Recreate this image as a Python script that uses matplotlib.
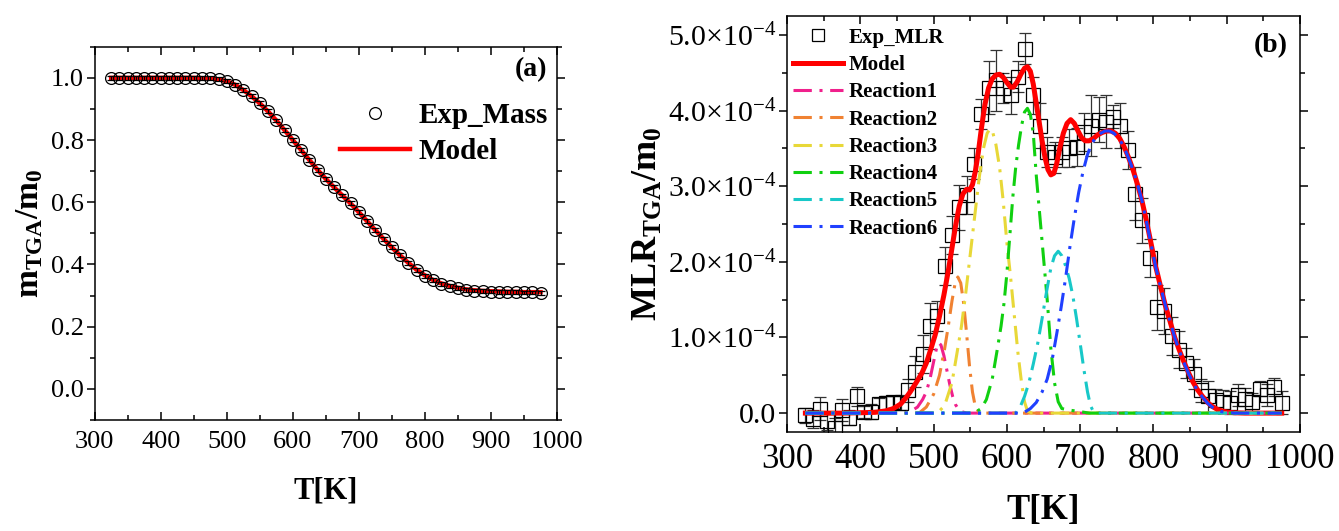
"""TGA mass loss (a) and mass loss rate with reaction split (b)."""

import matplotlib
matplotlib.use("Agg")
import matplotlib.pyplot as plt
from matplotlib.lines import Line2D
from matplotlib.ticker import MultipleLocator, FormatStrFormatter

plt.rcParams["font.family"] = ["Liberation Serif", "DejaVu Serif"]
plt.rcParams["mathtext.fontset"] = "custom"
plt.rcParams["mathtext.rm"] = "Liberation Serif"
plt.rcParams["mathtext.it"] = "Liberation Serif:italic"
plt.rcParams["mathtext.bf"] = "Liberation Serif:bold"

# ---- panel (a): normalised mass ----
temp_a = [325, 337.5, 350, 362.5, 375, 387.5, 400, 412.5, 425, 437.5, 450, 462.5,
          475, 487.5, 500, 512.5, 525, 537.5, 550, 562.5, 575, 587.5,
          600, 612.5, 625, 637.5, 650, 662.5, 675, 687.5, 700, 712.5,
          725, 737.5, 750, 762.5, 775, 787.5, 800, 812.5, 825, 837.5,
          850, 862.5, 875, 887.5, 900, 912.5, 925, 937.5, 950, 962.5, 975]
mass_exp = [1.0, 1.0, 1.0, 1.0, 1.0, 1.0, 1.0, 1.0, 1.0, 1.0, 1.0, 1.0,
            0.999, 0.996, 0.99, 0.978, 0.962, 0.942, 0.92, 0.893, 0.863, 0.832,
            0.80, 0.768, 0.735, 0.703, 0.675, 0.648, 0.622, 0.597, 0.568, 0.54,
            0.51, 0.482, 0.456, 0.43, 0.405, 0.383, 0.364, 0.35, 0.338, 0.33,
            0.324, 0.319, 0.316, 0.314, 0.313, 0.312, 0.311, 0.311, 0.31, 0.31, 0.308]
mass_model = [1.0, 1.0, 1.0, 1.0, 1.0, 1.0, 1.0, 1.0, 1.0, 1.0, 1.0, 0.999,
              0.998, 0.995, 0.989, 0.978, 0.961, 0.941, 0.918, 0.892, 0.863, 0.832,
              0.80, 0.768, 0.736, 0.704, 0.675, 0.648, 0.622, 0.596, 0.568, 0.539,
              0.51, 0.482, 0.455, 0.429, 0.405, 0.383, 0.365, 0.35, 0.339, 0.331,
              0.325, 0.32, 0.317, 0.315, 0.314, 0.313, 0.312, 0.312, 0.311, 0.311, 0.311]
mass_err = 0.006

# ---- panel (b): mass loss rate, values in units of 1e-4 ----
temp_exp = [325, 335, 345, 355, 365, 375, 385, 395, 405, 415, 425, 435, 445, 455,
            465, 475, 485, 495, 505, 515, 525, 535, 545, 555,
            565, 575, 585, 595, 605, 615, 625, 635, 645, 655,
            665, 675, 685, 695, 705, 715, 725, 735, 745, 755,
            765, 775, 785, 795, 805, 815, 825, 835, 845, 855,
            865, 875, 885, 895, 905, 915, 925, 935, 945, 955, 965, 975]
mlr_exp = [-0.03, -0.08, 0.06, -0.10, -0.20, 0.04, -0.06, 0.22, 0.01, 0.02, 0.12, 0.13, 0.15, 0.14,
           0.30, 0.55, 0.78, 1.15, 1.28, 1.95, 2.35, 2.72, 2.88, 3.30,
           3.95, 4.30, 4.40, 4.30, 4.20, 4.45, 4.82, 4.20, 3.80, 3.45,
           3.38, 3.45, 3.50, 3.52, 3.72, 3.80, 3.88, 3.85, 3.92, 3.80,
           3.48, 2.90, 2.55, 2.05, 1.40, 1.35, 1.02, 0.84, 0.66, 0.52,
           0.30, 0.22, 0.17, 0.15, 0.14, 0.24, 0.18, 0.15, 0.32, 0.24, 0.35, 0.14]
mlr_err = [0.10, 0.12, 0.15, 0.12, 0.14, 0.15, 0.10, 0.12, 0.08, 0.10, 0.08, 0.10, 0.08, 0.10,
           0.15, 0.20, 0.25, 0.30, 0.20, 0.25, 0.25, 0.30, 0.25, 0.20,
           0.20, 0.35, 0.40, 0.20, 0.25, 0.20, 0.20, 0.25, 0.30, 0.20,
           0.20, 0.20, 0.25, 0.25, 0.25, 0.40, 0.30, 0.35, 0.15, 0.30,
           0.25, 0.35, 0.30, 0.25, 0.30, 0.30, 0.25, 0.25, 0.20, 0.20,
           0.15, 0.20, 0.15, 0.15, 0.15, 0.15, 0.15, 0.12, 0.10, 0.15, 0.12, 0.15]

model_T = [325, 350, 375, 400, 420, 435, 445, 455, 462, 468,
           476, 484, 490, 496, 502, 508, 514, 520, 525, 530,
           535, 540, 545, 549, 553, 557, 561, 565, 570, 575,
           580, 585, 590, 595, 600, 605, 609, 614, 619, 624,
           628, 632, 636, 640, 644, 648, 652, 656, 660, 664,
           668, 672, 677, 682, 687, 692, 697, 702, 707, 712,
           718, 724, 730, 736, 742, 748, 754, 760, 766, 772,
           778, 784, 790, 797, 803, 810, 816, 823, 829, 835,
           841, 848, 854, 860, 867, 874, 880, 887, 893, 900,
           910, 925, 975]
model_mlr = [0, 0, 0, 0.005, 0.01, 0.03, 0.06, 0.12, 0.20, 0.28,
             0.40, 0.53, 0.66, 0.84, 1.03, 1.28, 1.56, 1.88, 2.18, 2.48,
             2.74, 2.90, 2.96, 2.95, 3.02, 3.20, 3.45, 3.75, 4.08, 4.30,
             4.42, 4.47, 4.48, 4.44, 4.37, 4.31, 4.31, 4.38, 4.48, 4.56,
             4.58, 4.52, 4.35, 4.10, 3.85, 3.60, 3.38, 3.22, 3.15, 3.17,
             3.30, 3.50, 3.70, 3.83, 3.88, 3.83, 3.73, 3.64, 3.60, 3.60,
             3.63, 3.68, 3.71, 3.73, 3.73, 3.70, 3.63, 3.52, 3.38, 3.22,
             3.03, 2.82, 2.56, 2.23, 1.94, 1.66, 1.43, 1.20, 1.00, 0.84,
             0.69, 0.53, 0.41, 0.31, 0.22, 0.14, 0.09, 0.05, 0.03, 0.015,
             0.005, 0, 0]

r1_T = [325, 460, 470, 478, 485, 490, 495, 500, 504, 507, 510, 514, 518, 522, 526, 530, 534, 538, 545, 975]
r1_v = [0, 0, 0.03, 0.08, 0.18, 0.28, 0.45, 0.68, 0.86, 0.93, 0.90, 0.76, 0.57, 0.38, 0.22, 0.11, 0.05, 0.02, 0, 0]

r2_T = [325, 480, 490, 500, 508, 515, 520, 525, 529, 533, 537, 541, 545, 549, 553, 557, 562, 570, 975]
r2_v = [0, 0, 0.08, 0.25, 0.50, 0.85, 1.15, 1.48, 1.70, 1.80, 1.72, 1.45, 1.05, 0.62, 0.28, 0.08, 0.01, 0, 0]

r3_T = [325, 505, 515, 525, 532, 538, 544, 550, 556, 562, 568, 573, 577, 581, 585,
        590, 595, 600, 605, 610, 615, 620, 624, 628, 634, 975]
r3_v = [0, 0, 0.10, 0.40, 0.80, 1.15, 1.60, 2.10, 2.60, 3.10, 3.50, 3.70, 3.76, 3.70, 3.55,
        3.25, 2.80, 2.25, 1.80, 1.30, 0.80, 0.40, 0.15, 0.03, 0, 0]

r4_T = [325, 555, 565, 572, 580, 587, 592, 596, 600, 604, 608, 612, 616, 620, 624,
        628, 632, 636, 640, 645, 650, 655, 660, 665, 670, 675, 685, 700, 712, 975]
r4_v = [0, 0, 0.06, 0.18, 0.45, 0.85, 1.15, 1.45, 1.85, 2.35, 2.85, 3.25, 3.55, 3.80, 3.98,
        4.03, 3.95, 3.70, 3.15, 2.60, 2.05, 1.50, 0.85, 0.40, 0.15, 0.06, 0.04, 0.02, 0, 0]

r5_T = [325, 612, 618, 624, 630, 636, 642, 648, 654, 660, 665, 670, 675, 680, 685,
        690, 695, 700, 705, 710, 714, 718, 725, 975]
r5_v = [0, 0, 0.08, 0.22, 0.40, 0.65, 0.92, 1.25, 1.60, 1.92, 2.08, 2.14, 2.08, 1.95, 1.78,
        1.55, 1.25, 0.92, 0.58, 0.28, 0.10, 0.02, 0, 0]

r6_T = [325, 622, 632, 640, 648, 655, 662, 668, 674, 680, 686, 692, 698, 704, 710, 716,
        722, 728, 734, 740, 746, 752, 758, 764, 770, 777, 784, 790, 797, 803, 810, 816,
        823, 829, 835, 841, 848, 854, 860, 867, 874, 880, 887, 893, 900, 910, 975]
r6_v = [0, 0, 0.06, 0.14, 0.28, 0.45, 0.72, 1.05, 1.40, 1.78, 2.20, 2.58, 2.92, 3.20, 3.42, 3.57,
        3.65, 3.70, 3.73, 3.73, 3.70, 3.64, 3.55, 3.42, 3.27, 3.07, 2.82, 2.55, 2.22, 1.93, 1.66, 1.43,
        1.20, 1.00, 0.83, 0.68, 0.52, 0.40, 0.30, 0.21, 0.13, 0.08, 0.04, 0.02, 0.01, 0, 0]

reactions = [("Reaction1", r1_T, r1_v, "#f0208c"),
             ("Reaction2", r2_T, r2_v, "#f08232"),
             ("Reaction3", r3_T, r3_v, "#e8d838"),
             ("Reaction4", r4_T, r4_v, "#10d010"),
             ("Reaction5", r5_T, r5_v, "#18c8c8"),
             ("Reaction6", r6_T, r6_v, "#2040ff")]

mlr_ticks = [0, 1, 2, 3, 4, 5]
mlr_ticklabels = ["0.0", r"1.0×10$^{-4}$", r"2.0×10$^{-4}$", r"3.0×10$^{-4}$",
                  r"4.0×10$^{-4}$", r"5.0×10$^{-4}$"]
SCALE = 1e-4
DASHDOT = (6, 2.5, 1, 2.5)


def style_axes(ax, tick_size):
    ax.xaxis.set_major_locator(MultipleLocator(100))
    ax.xaxis.set_minor_locator(MultipleLocator(50))
    ax.tick_params(which="both", top=True, right=True, direction="in", width=1.1)
    ax.tick_params(axis="y", which="both", left=True, direction="out")
    ax.tick_params(which="major", length=6)
    ax.tick_params(which="minor", length=3.5)
    ax.tick_params(axis="both", labelsize=tick_size)
    for s in ax.spines.values():
        s.set_linewidth(1.1)


fig = plt.figure(figsize=(13.39, 5.31), dpi=100)

# ---------------- (a) ----------------
ax1 = fig.add_axes([0.0707, 0.209, 0.3453, 0.703])
ax1.plot(temp_a, mass_model, color="red", lw=3.2, zorder=2)
ax1.errorbar(temp_a, mass_exp, yerr=mass_err, fmt="o", ms=8.5, mfc="none", mec="black",
             mew=0.9, ecolor="black", elinewidth=0.9, capsize=3, capthick=0.9, zorder=3)
ax1.set_xlim(300, 1000)
ax1.set_ylim(-0.1, 1.1)
ax1.yaxis.set_major_locator(MultipleLocator(0.2))
ax1.yaxis.set_minor_locator(MultipleLocator(0.1))
ax1.yaxis.set_major_formatter(FormatStrFormatter("%.1f"))
style_axes(ax1, 19)
ax1.tick_params(axis="x", pad=8)
ax1.tick_params(axis="y", pad=2)
ax1.set_xlabel("T[K]", fontsize=22, fontweight="bold", labelpad=17)
ax1.set_ylabel(r"$\mathbf{m_{TGA}/m_0}$", fontsize=24, labelpad=4)
ax1.text(0.944, 0.938, "(a)", transform=ax1.transAxes, fontsize=20, fontweight="bold",
         ha="center", va="center")
handles_a = [Line2D([], [], ls="none", marker="o", ms=8.5, mfc="none", mec="black", mew=0.9),
             Line2D([], [], color="red", lw=3.2)]
ax1.legend(handles_a, ["Exp_Mass", "Model"], loc="upper left", bbox_to_anchor=(0.53, 0.852),
           frameon=False, borderpad=0, borderaxespad=0, handlelength=2.4,
           handletextpad=0.3, labelspacing=0.32, prop={"weight": "bold", "size": 21})

# ---------------- (b) ----------------
ax2 = fig.add_axes([0.5878, 0.1864, 0.3831, 0.7834])
ax2.errorbar(temp_exp, [v * SCALE for v in mlr_exp], yerr=[e * SCALE for e in mlr_err],
             fmt="s", ms=10, mfc="none", mec="black", mew=0.9, ecolor="#333333",
             elinewidth=0.9, capsize=4, capthick=0.9, zorder=2)
ax2.plot(model_T, [v * SCALE for v in model_mlr], color="red", lw=3.6, zorder=3)
for name, tt, vv, c in reactions:
    ax2.plot(tt, [v * SCALE for v in vv], color=c, lw=2.2, dashes=DASHDOT, zorder=4)
ax2.set_xlim(300, 1000)
ax2.set_ylim(-0.25e-4, 5.25e-4)
ax2.set_yticks([t * SCALE for t in mlr_ticks])
ax2.set_yticklabels(mlr_ticklabels)
ax2.yaxis.set_minor_locator(MultipleLocator(0.5e-4))
style_axes(ax2, 21.5)
ax2.tick_params(axis="x", labelsize=25, pad=8)
ax2.tick_params(axis="y", pad=2)
ax2.set_xlabel("T[K]", fontsize=25, fontweight="bold", labelpad=13)
ax2.set_ylabel(r"$\mathbf{MLR_{TGA}/m_0}$", fontsize=26, labelpad=2)
ax2.text(0.943, 0.93, "(b)", transform=ax2.transAxes, fontsize=20, fontweight="bold",
         ha="center", va="center")
handles_b = [Line2D([], [], ls="none", marker="s", ms=9, mfc="none", mec="black", mew=0.9),
             Line2D([], [], color="red", lw=3.6)]
labels_b = ["Exp_MLR", "Model"]
for name, tt, vv, c in reactions:
    handles_b.append(Line2D([], [], color=c, lw=2.2, dashes=DASHDOT))
    labels_b.append(name)
ax2.legend(handles_b, labels_b, loc="upper left", bbox_to_anchor=(0.012, 0.972), frameon=False,
           borderpad=0, borderaxespad=0, handlelength=2.4, handletextpad=0.25, labelspacing=0.35,
           prop={"weight": "bold", "size": 15})

fig.savefig("out.png", dpi=100)
